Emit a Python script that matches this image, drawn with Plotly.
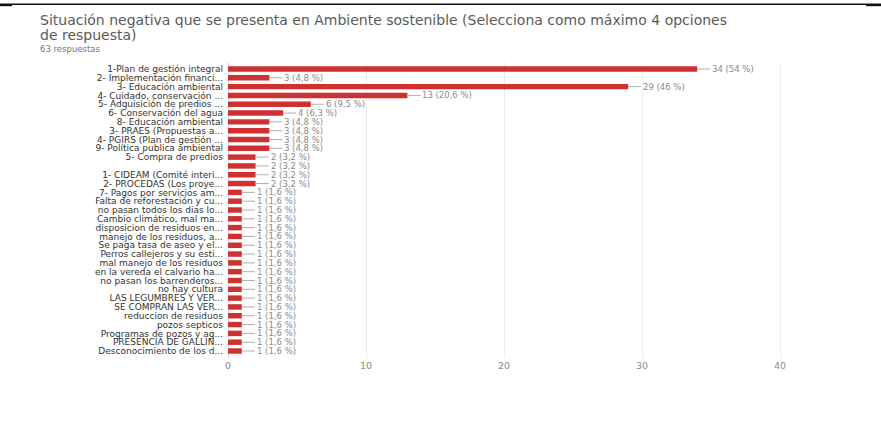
import plotly.graph_objects as go

# Responses per option (63 respondents, up to 4 options each)
categories = [
    "1-Plan de gestión integral",
    "2- Implementación financi...",
    "3- Educación ambiental",
    "4- Cuidado, conservación ...",
    "5- Adquisición de predios ...",
    "6- Conservación del agua",
    "8- Educación ambiental",
    "3- PRAES (Propuestas a...",
    "4- PGIRS (Plan de gestión ...",
    "9- Política publica ambiental",
    "5- Compra de predios",
    " ",
    "1- CIDEAM (Comité interi...",
    "2- PROCEDAS (Los proye...",
    "7- Pagos por servicios am...",
    "Falta de reforestación y cu...",
    "no pasan todos los dias lo...",
    "Cambio climático, mal ma...",
    "disposicion de residuos en...",
    "manejo de los residuos, a...",
    "Se paga tasa de aseo y el...",
    "Perros callejeros y su esti...",
    "mal manejo de los residuos",
    "en la vereda el calvario ha...",
    "no pasan los barrenderos...",
    "no hay cultura",
    "LAS LEGUMBRES Y VER...",
    "SE COMPRAN LAS VER...",
    "reduccion de residuos",
    "pozos septicos",
    "Programas de pozos y ag...",
    "PRESENCIA DE GALLIN...",
    "Desconocimiento de los d...",
]
counts = [34, 3, 29, 13, 6, 4, 3, 3, 3, 3, 2, 2, 2, 2,
          1, 1, 1, 1, 1, 1, 1, 1, 1, 1, 1, 1, 1, 1, 1, 1, 1, 1, 1]
total_responses = 63
x_ticks = [0, 10, 20, 30, 40]

title_line1 = "Situación negativa que se presenta en Ambiente sostenible (Selecciona como máximo 4 opciones"
title_line2 = "de respuesta)"
subtitle = "63 respuestas"


def pct_label(v):
    p = round(v / total_responses * 100, 1)
    s = f"{p:.1f}".replace(".", ",")
    if s.endswith(",0"):
        s = s[:-2]
    return f"{v} ({s} %)"


W, H = 881, 433
ML, MR, MT, MB = 228, 73, 61.5, 74.5
plot_w = W - ML - MR
plot_h = H - MT - MB

FONT = "DejaVu Sans"

fig = go.Figure(
    go.Bar(
        x=counts,
        y=categories,
        orientation="h",
        marker=dict(color="#d0302f", line=dict(width=0)),
        width=0.62,
        hoverinfo="skip",
    )
)

# value labels joined to the bar ends by a short leader line
annotations = []
for cat, v in zip(categories, counts):
    annotations.append(dict(
        x=v, y=cat, xref="x", yref="y",
        text=pct_label(v),
        showarrow=True, arrowhead=0, arrowwidth=1, arrowcolor="#b0b0b0",
        ax=13, ay=0, xanchor="left", yanchor="middle",
        standoff=0, startstandoff=0,
        font=dict(family=FONT, size=8.5, color="#8a8a8a"),
    ))


def px_to_paper(px, py):
    return (px - ML) / plot_w, (H - MB - py) / plot_h


# heading block
tx, _ = px_to_paper(38, 0)
for text, py, size, color in [
    (title_line1, 19, 14, "#5a5a5a"),
    (title_line2, 34, 14, "#5a5a5a"),
    (subtitle, 48, 8.5, "#777777"),
]:
    _, ty = px_to_paper(0, py)
    annotations.append(dict(
        x=tx, y=ty, xref="paper", yref="paper",
        text=text, showarrow=False, xanchor="left", yanchor="middle",
        font=dict(family=FONT, size=size, color=color),
    ))

# rule across the top of the card
x0, y0 = px_to_paper(0, 3.5)
x1, _ = px_to_paper(W, 3.5)
xa, ya = px_to_paper(12, 4.5)
xb, _ = px_to_paper(866, 4.5)
shapes = [
    dict(type="line", xref="paper", yref="paper", x0=x0, x1=x1, y0=y0, y1=y0,
         line=dict(color="#111111", width=1.5)),
    dict(type="line", xref="paper", yref="paper", x0=x0, x1=xa, y0=ya, y1=ya,
         line=dict(color="#111111", width=2)),
    dict(type="line", xref="paper", yref="paper", x0=xb, x1=x1, y0=ya, y1=ya,
         line=dict(color="#111111", width=2)),
]

fig.update_layout(
    width=W, height=H,
    margin=dict(l=ML, r=MR, t=MT, b=MB, pad=0),
    paper_bgcolor="white", plot_bgcolor="white",
    showlegend=False,
    bargap=0.38,
    annotations=annotations,
    shapes=shapes,
    xaxis=dict(
        range=[0, plot_w / 13.8],
        tickvals=x_ticks,
        showgrid=True, gridcolor="#ececec", gridwidth=1,
        zeroline=True, zerolinecolor="#dcdcdc", zerolinewidth=1,
        showline=False, ticks="",
        tickfont=dict(family=FONT, size=9.5, color="#8a8a8a"),
        fixedrange=True,
    ),
    yaxis=dict(
        categoryorder="array", categoryarray=categories,
        tickmode="array", tickvals=categories, ticktext=categories,
        autorange="reversed",
        showgrid=False, zeroline=False, showline=False, ticks="",
        ticklabelstandoff=4,
        tickfont=dict(family=FONT, size=9, color="#333333"),
        fixedrange=True,
    ),
)

fig.write_html("out.html", config={"displayModeBar": False})
